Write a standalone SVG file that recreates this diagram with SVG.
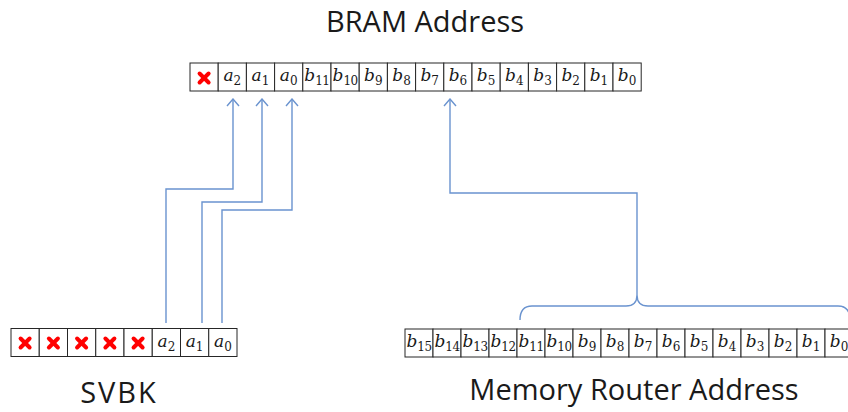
<svg xmlns="http://www.w3.org/2000/svg" width="848" height="412" viewBox="0 0 848 412">
  <style>
    .cell { fill: #ffffff; stroke: #262626; stroke-width: 1; }
    .bit { font-family: "DejaVu Serif", "Liberation Serif", serif; font-size: 17px; fill: #1a1a1a; text-anchor: middle; }
    .bit .v { font-style: italic; }
    .bit .s { font-size: 12px; font-style: normal; }
    .title { font-family: "Open Sans", "Liberation Sans", sans-serif; font-size: 29px; fill: #1a1a1a; text-anchor: middle; }
    .wire { fill: none; stroke: #6a93cf; stroke-width: 1.4; }
    .cross { stroke: #ff0000; stroke-width: 4; stroke-linecap: round; }
  </style>
  <defs>
    <marker id="openHead" viewBox="0 0 12 14" refX="11" refY="7" markerWidth="12" markerHeight="14" markerUnits="userSpaceOnUse" orient="auto">
      <path d="M4 1 L11 7 L4 13" fill="none" stroke="#6a93cf" stroke-width="1.4"/>
    </marker>
    <g id="x">
      <line class="cross" x1="-4.5" y1="-4.5" x2="4.5" y2="4.5"/>
      <line class="cross" x1="4.5" y1="-4.5" x2="-4.5" y2="4.5"/>
    </g>
  </defs>

  <!-- BRAM address register -->
  <g id="bram-address">
    <rect class="cell" x="190" y="63" width="28.2" height="28"/>
    <rect class="cell" x="218.2" y="63" width="28.2" height="28"/>
    <rect class="cell" x="246.4" y="63" width="28.2" height="28"/>
    <rect class="cell" x="274.6" y="63" width="28.2" height="28"/>
    <rect class="cell" x="302.8" y="63" width="28.2" height="28"/>
    <rect class="cell" x="331" y="63" width="28.2" height="28"/>
    <rect class="cell" x="359.2" y="63" width="28.2" height="28"/>
    <rect class="cell" x="387.4" y="63" width="28.2" height="28"/>
    <rect class="cell" x="415.6" y="63" width="28.2" height="28"/>
    <rect class="cell" x="443.8" y="63" width="28.2" height="28"/>
    <rect class="cell" x="472" y="63" width="28.2" height="28"/>
    <rect class="cell" x="500.2" y="63" width="28.2" height="28"/>
    <rect class="cell" x="528.4" y="63" width="28.2" height="28"/>
    <rect class="cell" x="556.6" y="63" width="28.2" height="28"/>
    <rect class="cell" x="584.8" y="63" width="28.2" height="28"/>
    <rect class="cell" x="613" y="63" width="28.2" height="28"/>
    <use href="#x" x="204.1" y="78"/>
    <text class="bit" x="232.3" y="81"><tspan class="v">a</tspan><tspan class="s" dy="4">2</tspan></text>
    <text class="bit" x="260.5" y="81"><tspan class="v">a</tspan><tspan class="s" dy="4">1</tspan></text>
    <text class="bit" x="288.7" y="81"><tspan class="v">a</tspan><tspan class="s" dy="4">0</tspan></text>
    <text class="bit" x="316.9" y="81"><tspan class="v">b</tspan><tspan class="s" dy="4" letter-spacing="-0.5">11</tspan></text>
    <text class="bit" x="345.1" y="81"><tspan class="v">b</tspan><tspan class="s" dy="4" letter-spacing="-0.5">10</tspan></text>
    <text class="bit" x="373.3" y="81"><tspan class="v">b</tspan><tspan class="s" dy="4">9</tspan></text>
    <text class="bit" x="401.5" y="81"><tspan class="v">b</tspan><tspan class="s" dy="4">8</tspan></text>
    <text class="bit" x="429.7" y="81"><tspan class="v">b</tspan><tspan class="s" dy="4">7</tspan></text>
    <text class="bit" x="457.9" y="81"><tspan class="v">b</tspan><tspan class="s" dy="4">6</tspan></text>
    <text class="bit" x="486.1" y="81"><tspan class="v">b</tspan><tspan class="s" dy="4">5</tspan></text>
    <text class="bit" x="514.3" y="81"><tspan class="v">b</tspan><tspan class="s" dy="4">4</tspan></text>
    <text class="bit" x="542.5" y="81"><tspan class="v">b</tspan><tspan class="s" dy="4">3</tspan></text>
    <text class="bit" x="570.7" y="81"><tspan class="v">b</tspan><tspan class="s" dy="4">2</tspan></text>
    <text class="bit" x="598.9" y="81"><tspan class="v">b</tspan><tspan class="s" dy="4">1</tspan></text>
    <text class="bit" x="627.1" y="81"><tspan class="v">b</tspan><tspan class="s" dy="4">0</tspan></text>
    <text class="title" x="425" y="32">BRAM Address</text>
  </g>

  <!-- SVBK register -->
  <g id="svbk">
    <rect class="cell" x="11" y="328.5" width="28.25" height="28"/>
    <rect class="cell" x="39.25" y="328.5" width="28.25" height="28"/>
    <rect class="cell" x="67.5" y="328.5" width="28.25" height="28"/>
    <rect class="cell" x="95.75" y="328.5" width="28.25" height="28"/>
    <rect class="cell" x="124" y="328.5" width="28.25" height="28"/>
    <rect class="cell" x="152.25" y="328.5" width="28.25" height="28"/>
    <rect class="cell" x="180.5" y="328.5" width="28.25" height="28"/>
    <rect class="cell" x="208.75" y="328.5" width="28.25" height="28"/>
    <use href="#x" x="25.1" y="343"/>
    <use href="#x" x="53.4" y="343"/>
    <use href="#x" x="81.6" y="343"/>
    <use href="#x" x="109.9" y="343"/>
    <use href="#x" x="138.1" y="343"/>
    <text class="bit" x="166.4" y="346.5"><tspan class="v">a</tspan><tspan class="s" dy="4">2</tspan></text>
    <text class="bit" x="194.6" y="346.5"><tspan class="v">a</tspan><tspan class="s" dy="4">1</tspan></text>
    <text class="bit" x="222.9" y="346.5"><tspan class="v">a</tspan><tspan class="s" dy="4">0</tspan></text>
    <text class="title" x="119" y="403" letter-spacing="2">SVBK</text>
  </g>

  <!-- Memory router address register -->
  <g id="memory-router-address">
    <rect class="cell" x="405" y="329" width="28" height="28"/>
    <rect class="cell" x="433" y="329" width="28" height="28"/>
    <rect class="cell" x="461" y="329" width="28" height="28"/>
    <rect class="cell" x="489" y="329" width="28" height="28"/>
    <rect class="cell" x="517" y="329" width="28" height="28"/>
    <rect class="cell" x="545" y="329" width="28" height="28"/>
    <rect class="cell" x="573" y="329" width="28" height="28"/>
    <rect class="cell" x="601" y="329" width="28" height="28"/>
    <rect class="cell" x="629" y="329" width="28" height="28"/>
    <rect class="cell" x="657" y="329" width="28" height="28"/>
    <rect class="cell" x="685" y="329" width="28" height="28"/>
    <rect class="cell" x="713" y="329" width="28" height="28"/>
    <rect class="cell" x="741" y="329" width="28" height="28"/>
    <rect class="cell" x="769" y="329" width="28" height="28"/>
    <rect class="cell" x="797" y="329" width="28" height="28"/>
    <rect class="cell" x="825" y="329" width="28" height="28"/>
    <text class="bit" x="419" y="347"><tspan class="v">b</tspan><tspan class="s" dy="4" letter-spacing="-0.5">15</tspan></text>
    <text class="bit" x="447" y="347"><tspan class="v">b</tspan><tspan class="s" dy="4" letter-spacing="-0.5">14</tspan></text>
    <text class="bit" x="475" y="347"><tspan class="v">b</tspan><tspan class="s" dy="4" letter-spacing="-0.5">13</tspan></text>
    <text class="bit" x="503" y="347"><tspan class="v">b</tspan><tspan class="s" dy="4" letter-spacing="-0.5">12</tspan></text>
    <text class="bit" x="531" y="347"><tspan class="v">b</tspan><tspan class="s" dy="4" letter-spacing="-0.5">11</tspan></text>
    <text class="bit" x="559" y="347"><tspan class="v">b</tspan><tspan class="s" dy="4" letter-spacing="-0.5">10</tspan></text>
    <text class="bit" x="587" y="347"><tspan class="v">b</tspan><tspan class="s" dy="4">9</tspan></text>
    <text class="bit" x="615" y="347"><tspan class="v">b</tspan><tspan class="s" dy="4">8</tspan></text>
    <text class="bit" x="643" y="347"><tspan class="v">b</tspan><tspan class="s" dy="4">7</tspan></text>
    <text class="bit" x="671" y="347"><tspan class="v">b</tspan><tspan class="s" dy="4">6</tspan></text>
    <text class="bit" x="699" y="347"><tspan class="v">b</tspan><tspan class="s" dy="4">5</tspan></text>
    <text class="bit" x="727" y="347"><tspan class="v">b</tspan><tspan class="s" dy="4">4</tspan></text>
    <text class="bit" x="755" y="347"><tspan class="v">b</tspan><tspan class="s" dy="4">3</tspan></text>
    <text class="bit" x="783" y="347"><tspan class="v">b</tspan><tspan class="s" dy="4">2</tspan></text>
    <text class="bit" x="811" y="347"><tspan class="v">b</tspan><tspan class="s" dy="4">1</tspan></text>
    <text class="bit" x="839" y="347"><tspan class="v">b</tspan><tspan class="s" dy="4">0</tspan></text>
    <text class="title" x="634" y="400">Memory Router Address</text>
  </g>

  <!-- connectors -->
  <g id="connectors">
    <path class="wire" d="M166 323 V189 H233 V99" marker-end="url(#openHead)"/>
    <path class="wire" d="M202 323 V202 H262 V99" marker-end="url(#openHead)"/>
    <path class="wire" d="M222 323 V210 H292 V99" marker-end="url(#openHead)"/>
    <path class="wire" d="M637 295 V193 H450 V99" marker-end="url(#openHead)"/>
    <!-- brace over b11..b0 -->
    <path class="wire" d="M520 320 Q520 306 532 306 H626 Q637 306 637 295 Q637 306 648 306 H838 Q850 306 850 320"/>
  </g>
</svg>
